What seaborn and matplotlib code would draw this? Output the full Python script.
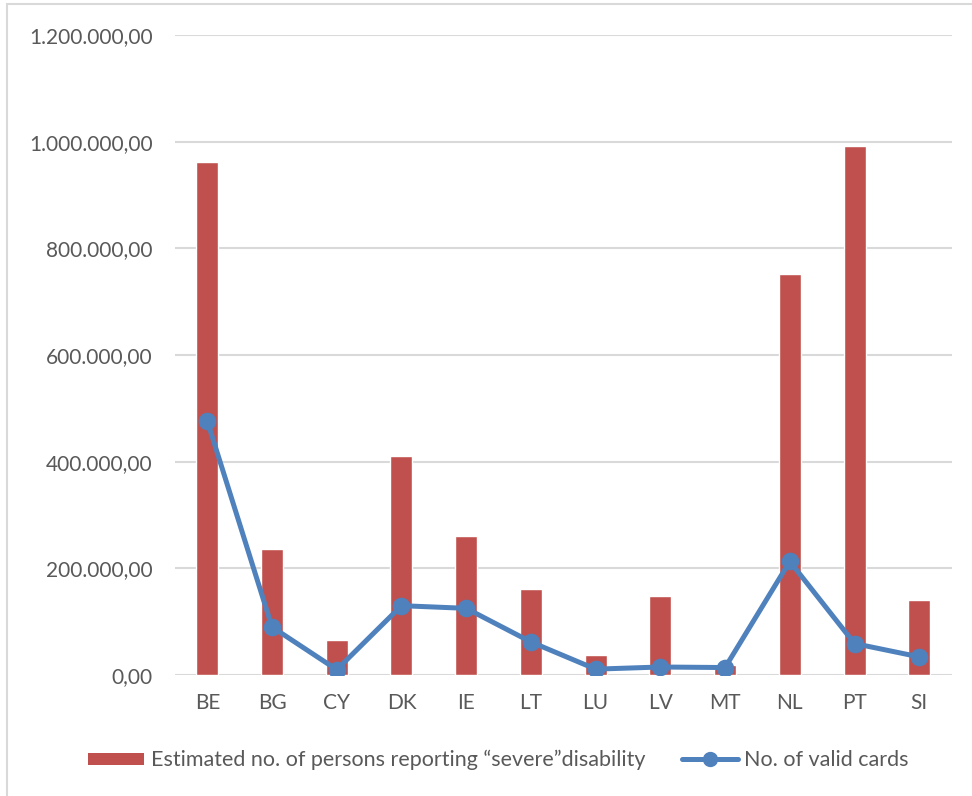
import matplotlib
matplotlib.use("Agg")
import matplotlib.pyplot as plt
from matplotlib.patches import Rectangle
from matplotlib.ticker import FuncFormatter
from matplotlib.lines import Line2D
from matplotlib.patches import Patch
import seaborn as sns

countries = ["BE", "BG", "CY", "DK", "IE", "LT", "LU", "LV", "MT", "NL", "PT", "SI"]
severe_disability = [962000, 236000, 65000, 410000, 261000, 162000, 38000, 148000, 19000, 752000, 992000, 140000]
valid_cards = [476000, 90000, 10000, 130000, 125000, 62000, 11000, 15000, 14000, 213000, 59000, 34000]

bar_label = "Estimated no. of persons reporting \u201csevere\u201ddisability"
line_label = "No. of valid cards"

bar_color = "#C0504D"
line_color = "#4F81BD"
text_color = "#595959"
grid_color = "#D9D9D9"

sns.set_style("white")
plt.rcParams["font.family"] = ["Lato", "DejaVu Sans"]

fig = plt.figure(figsize=(9.72, 7.96), dpi=100)
ax = fig.add_axes([0.180, 0.152, 0.799, 0.804])

sns.barplot(x=countries, y=severe_disability, color=bar_color, width=0.34,
            saturation=1, ax=ax, zorder=2)
sns.pointplot(x=countries, y=valid_cards, color=line_color, markersize=10,
              linewidth=3.6, ax=ax, zorder=3)

ax.set_ylim(0, 1200000)
ax.set_xlim(-0.5, len(countries) - 0.5)
ax.set_yticks(range(0, 1200001, 200000))


def fmt(v, pos):
    s = f"{v:,.2f}"
    return s.replace(",", "X").replace(".", ",").replace("X", ".")


ax.yaxis.set_major_formatter(FuncFormatter(fmt))
ax.grid(axis="y", color=grid_color, linewidth=1.5, zorder=0)
ax.set_axisbelow(True)
for sp in ax.spines.values():
    sp.set_visible(False)
ax.tick_params(axis="both", length=0, labelsize=15, colors=text_color)
ax.tick_params(axis="y", pad=16)
ax.tick_params(axis="x", pad=13)
ax.set_xlabel("")
ax.set_ylabel("")

handles = [
    Patch(facecolor=bar_color, edgecolor="none", label=bar_label),
    Line2D([0], [0], color=line_color, linewidth=3.6, marker="o", markersize=10,
           label=line_label),
]
fig.legend(handles=handles, loc="center", bbox_to_anchor=(0.513, 0.045), ncol=2,
           frameon=False, fontsize=15.5, labelcolor=text_color, handlelength=2.6,
           handleheight=0.5, handletextpad=0.3, columnspacing=1.7)

fig.patches.append(Rectangle((0.0072, -0.1), 1.2, 0.1 + 0.995, transform=fig.transFigure,
                             fill=False, edgecolor=grid_color, linewidth=1.5))

fig.savefig("out.png", dpi=100)
